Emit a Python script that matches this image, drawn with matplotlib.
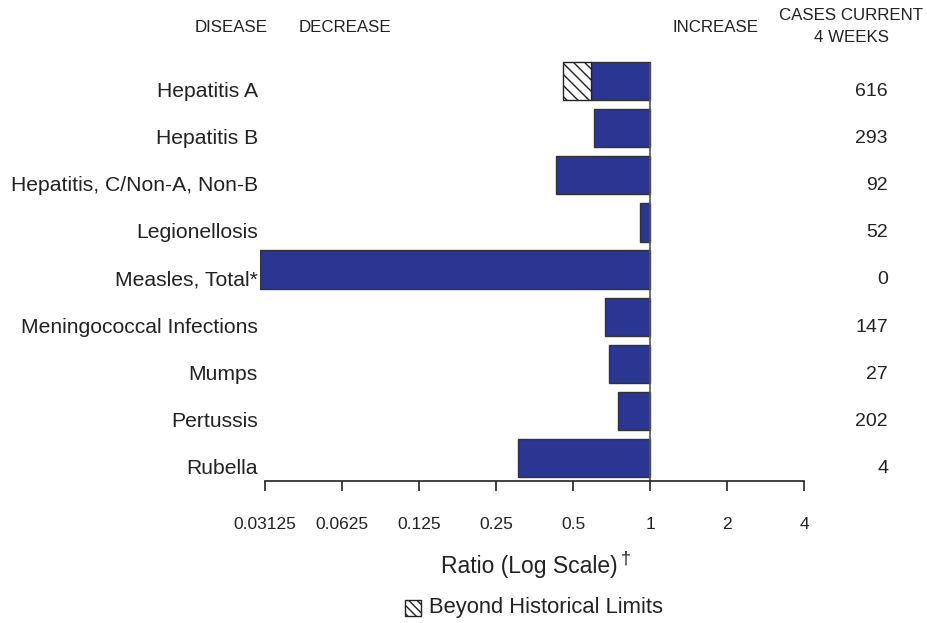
import matplotlib
matplotlib.use("Agg")
import matplotlib.pyplot as plt
from matplotlib.patches import Rectangle
from matplotlib.transforms import blended_transform_factory

diseases = ["Hepatitis A", "Hepatitis B", "Hepatitis, C/Non-A, Non-B",
            "Legionellosis", "Measles, Total*", "Meningococcal Infections",
            "Mumps", "Pertussis", "Rubella"]
ratios = [0.457, 0.604, 0.430, 0.914, 0.0298, 0.667, 0.692, 0.75, 0.305]
# solid part stops at the historical limit; beyond it the bar is hatched
hist_limit = [0.588, None, None, None, None, None, None, None, None]
cases = [616, 293, 92, 52, 0, 147, 27, 202, 4]
ticks = [0.03125, 0.0625, 0.125, 0.25, 0.5, 1, 2, 4]
tick_labels = ["0.03125", "0.0625", "0.125", "0.25", "0.5", "1", "2", "4"]

W, H = 927, 623
BLUE = "#2b3592"
plt.rcParams["font.family"] = ["Liberation Sans", "DejaVu Sans"]
plt.rcParams["hatch.linewidth"] = 1.0


def fx(px):
    return px / W


def fy(py):
    return 1 - py / H


fig = plt.figure(figsize=(W / 100, H / 100), dpi=100)
ax = fig.add_axes([fx(260), fy(481), fx(804) - fx(260), (481 - 60) / H])

rows = list(range(len(diseases)))
for i, r, lim in zip(rows, ratios, hist_limit):
    start = lim if lim is not None else r
    ax.barh(i, start - 1, left=1, height=0.81, color=BLUE,
            edgecolor="#333333", linewidth=1)
    if lim is not None:
        ax.barh(i, r - lim, left=lim, height=0.81, color="white",
                edgecolor="#222222", linewidth=1, hatch="\\\\\\")

ax.vlines(1, -0.38, 8.49, color="#555555", linewidth=1.2)

ax.set_xscale("log", base=2)
ax.set_xlim(0.0298, 4)
ax.set_ylim(8.49, -0.45)
ax.set_xticks(ticks)
ax.set_xticklabels(tick_labels, fontsize=12.5, color="#222222")
ax.minorticks_off()
ax.tick_params(axis="x", direction="out", length=7, width=1.2, pad=19,
               color="#222222")
ax.set_yticks([])
for s in ["top", "right", "left"]:
    ax.spines[s].set_visible(False)
ax.spines["bottom"].set_bounds(0.03125, 4)
ax.spines["bottom"].set_linewidth(1.2)
ax.spines["bottom"].set_color("#222222")

tr = blended_transform_factory(fig.transFigure, ax.transData)
for i, name, n in zip(rows, diseases, cases):
    ax.text(fx(258), i + 0.22, name, transform=tr, ha="right", va="center",
            fontsize=15.2, color="#222222")
    ax.text(fx(888), i + 0.22, str(n), transform=tr, ha="right", va="center",
            fontsize=14, color="#222222")

hdr = dict(fontsize=12.2, color="#222222", va="center")
fig.text(fx(195), fy(28), "DISEASE", ha="left", **hdr)
fig.text(fx(299), fy(28), "DECREASE", ha="left", **hdr)
fig.text(fx(672), fy(28), "INCREASE", ha="left", **hdr)
fig.text(fx(851), fy(16), "CASES CURRENT", ha="center", **hdr)
fig.text(fx(851), fy(37), "4 WEEKS", ha="center", **hdr)

fig.text(fx(441), fy(567), "Ratio (Log Scale)", ha="left", va="center",
         fontsize=16.5, color="#222222")
fig.text(fx(621), fy(559), "\u2020", ha="left", va="center",
         fontsize=13, color="#222222")

fig.patches.append(Rectangle((fx(405), fy(616)), fx(16), 16 / H,
                             transform=fig.transFigure, facecolor="white",
                             edgecolor="#222222", linewidth=1,
                             hatch="\\\\\\\\"))
fig.text(fx(429), fy(608), "Beyond Historical Limits", ha="left",
         va="center", fontsize=15.8, color="#222222")

fig.savefig("out.png", dpi=100)
